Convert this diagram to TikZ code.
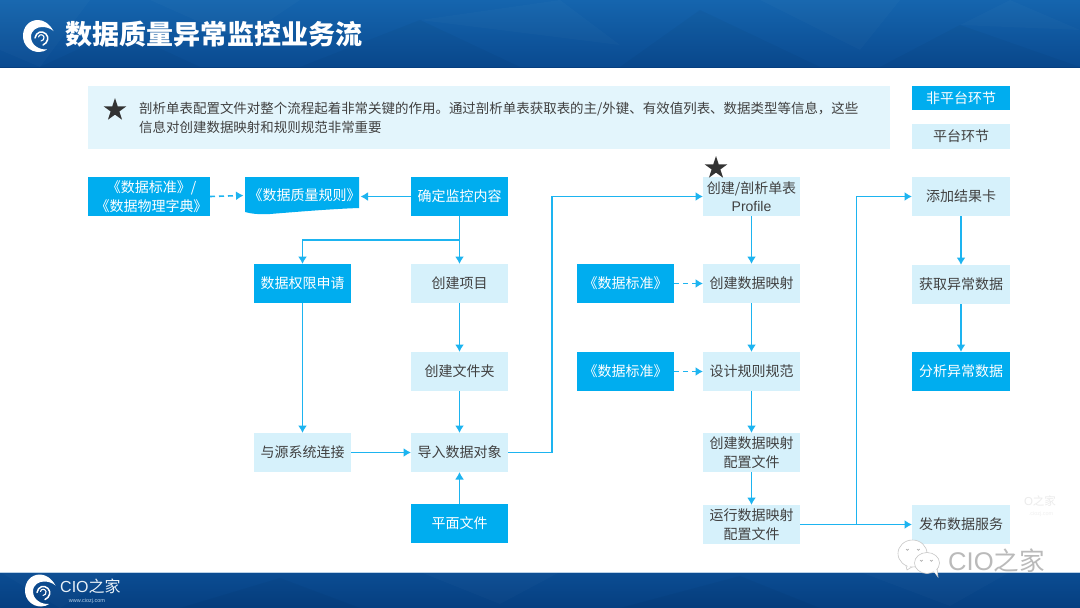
\documentclass[tikz,border=0pt]{standalone}
\usepackage{fontspec}
\setmainfont{Noto Sans CJK SC}
\newfontfamily\latinf{Liberation Sans}
\usetikzlibrary{arrows.meta,shapes.geometric}
\definecolor{cyanA}{HTML}{00ADEF}
\definecolor{paleA}{HTML}{D6F1FB}
\definecolor{noteA}{HTML}{E3F5FC}
\definecolor{lineA}{HTML}{1DB4F0}
\definecolor{txtA}{HTML}{404040}
\definecolor{navyA}{HTML}{0A4A90}
\definecolor{navyB}{HTML}{1565AE}
\definecolor{navyC}{HTML}{063F80}
\tikzset{
  px/.style={x=1pt,y=-1pt},
  boxbase/.style={inner sep=0pt,outer sep=0pt,align=center,font=\fontsize{14}{18.5}\selectfont},
  plat/.style={boxbase,fill=paleA,text=txtA},
  nonplat/.style={boxbase,fill=cyanA,text=white},
  flow/.style={draw=lineA,line width=1.6pt,-{Latex[length=7.5pt,width=9pt]}},
  flowdash/.style={flow,dash pattern=on 5pt off 4pt},
  bstar/.style={star,star points=5,star point ratio=2.6,fill=black!80,inner sep=0pt,minimum size=24pt},
  facet/.style={fill=white,opacity=0.02},
  facetd/.style={fill=black,opacity=0.03},
  wbub/.style={draw=black!22,line width=0.6pt,fill=white}
}
\newcommand{\boxat}[7]{\node[#1,minimum width=#5pt,minimum height=#6pt] (#2) at (#3,#4) {#7};}
\newcommand{\swirl}[2]{%
  \begin{scope}[shift={(#1,#2)}]
    \fill[white] (14.5,-5) .. controls (10,-13) and (4,-16) .. (-1,-16)
      .. controls (-10,-16) and (-16,-9) .. (-16,0)
      .. controls (-16,9) and (-9,16) .. (0,16)
      .. controls (3,16) and (6,15) .. (8,13.5)
      .. controls (0,14) and (-8,9) .. (-8,1)
      .. controls (-8,-6) and (-2,-9) .. (3,-9)
      .. controls (7,-9) and (11,-8) .. (14.5,-5) -- cycle;
    \draw[white,line width=1.5pt,line cap=round] (-4,2) .. controls (-3,-4) and (3,-6) .. (7,-2) .. controls (10,1) and (9,7) .. (4,9);
    \draw[white,line width=1.1pt,line cap=round] (-0.5,1) .. controls (0,-2) and (4,-2) .. (5,1) .. controls (5.5,3) and (4,5) .. (2,5);
  \end{scope}}
\begin{document}
\begin{tikzpicture}[px]
\useasboundingbox (0,0) rectangle (1080,608);
\fill[white] (0,0) rectangle (1080,608);
% header band
\begin{scope}
\clip (0,0) rectangle (1080,67);
\fill[top color=navyB,bottom color=navyA] (0,0) rectangle (1080,67);
\fill[facet] (0,0)--(90,0)--(40,67)--(0,50)--cycle;
\fill[facetd] (40,67)--(120,30)--(200,67)--cycle;
\fill[facet] (150,0)--(300,0)--(240,40)--cycle;
\fill[facetd] (300,67)--(420,20)--(520,67)--cycle;
\fill[facet] (420,20)--(560,0)--(620,45)--cycle;
\fill[facetd] (620,67)--(700,10)--(820,67)--cycle;
\fill[facet] (760,0)--(900,0)--(860,50)--cycle;
\fill[facetd] (880,67)--(960,25)--(1080,67)--cycle;
\fill[facet] (960,25)--(1010,0)--(1080,30)--cycle;
\end{scope}
\fill[navyC] (0,66.5) rectangle (1080,67.5);
% footer band
\begin{scope}
\clip (0,572) rectangle (1080,608);
\fill[top color=navyA!90!navyB,bottom color=navyC] (0,572) rectangle (1080,608);
\fill[facet] (0,572)--(120,572)--(60,608)--cycle;
\fill[facetd] (180,608)--(280,578)--(360,608)--cycle;
\fill[facet] (420,572)--(560,572)--(500,604)--cycle;
\fill[facetd] (620,608)--(740,576)--(820,608)--cycle;
\fill[facet] (860,572)--(1010,572)--(950,606)--cycle;
\end{scope}
\fill[white!70!navyB] (0,571.5) rectangle (1080,572.5);
\swirl{39}{36}
\node[inner sep=0pt,anchor=west,text=white,font=\fontsize{27}{30}\bfseries\selectfont] (title) at (65,34) {数据质量异常监控业务流};
\swirl{41}{590.5}
\node[inner sep=0pt,anchor=west,text=white!90!navyB,font=\fontsize{16}{18}\selectfont] (brand) at (60,586) {{\latinf CIO}之家};
\node[inner sep=0pt,text=white!70!navyB,font=\latinf\fontsize{5.5}{7}\selectfont] (url) at (87,601) {www.ciozj.com};
% note
\boxat{plat,fill=noteA}{note}{489}{117.5}{802}{63}{}
\node[inner sep=0pt,anchor=west,align=left,text=txtA,font=\fontsize{13.47}{19}\selectfont] (notetext) at (139,118) {剖析单表配置文件对整个流程起着非常关键的作用。通过剖析单表获取表的主/外键、有效值列表、数据类型等信息，这些\\信息对创建数据映射和规则规范非常重要};
\node[bstar] (starnote) at (115,110) {};
% legend
\boxat{nonplat}{lega}{961}{98}{98}{24.5}{非平台环节}
\boxat{plat}{legb}{961}{136.5}{98}{24.5}{平台环节}
% column 1
\boxat{nonplat}{std}{149}{196.5}{122}{39}{\hspace{5pt}《数据标准》/\\\hspace{5pt}《数据物理字典》}
\fill[cyanA] (245,177)--(359,177)--(359,208) .. controls (330,209) and (295,212) .. (270,214) .. controls (260,214.5) and (252,214) .. (245,212)--cycle;
\node[boxbase,text=white,minimum width=114pt,minimum height=37pt] (rule) at (302,195.5) {\hspace{5pt}《数据质量规则》};
\boxat{nonplat}{scope}{459.5}{196.5}{97}{39}{确定监控内容}
\boxat{nonplat}{perm}{302.5}{283.5}{97}{39}{数据权限申请}
\boxat{plat}{proj}{459.5}{283.5}{97}{39}{创建项目}
\boxat{plat}{fold}{459.5}{371.5}{97}{39}{创建文件夹}
\boxat{plat}{conn}{302.5}{452.5}{97}{39}{与源系统连接}
\boxat{plat}{imp}{459.5}{452.5}{97}{39}{导入数据对象}
\boxat{nonplat}{flat}{459.5}{523.5}{97}{39}{平面文件}
% column 2
\boxat{plat}{prof}{751.5}{196.5}{97}{39}{创建/剖析单表\\{\latinf Profile}}
\node[bstar] (starprof) at (716,168) {};
\boxat{nonplat}{stdb}{625.5}{283.5}{97}{39}{《数据标准》}
\boxat{plat}{map}{751.5}{283.5}{97}{39}{创建数据映射}
\boxat{nonplat}{stdc}{625.5}{371.5}{97}{39}{《数据标准》}
\boxat{plat}{spec}{751.5}{371.5}{97}{39}{设计规则规范}
\boxat{plat}{cfg}{751.5}{452.5}{97}{39}{创建数据映射\\配置文件}
\boxat{plat}{run}{751.5}{524.5}{97}{39}{运行数据映射\\配置文件}
% column 3
\boxat{plat}{card}{961}{196.5}{98}{39}{添加结果卡}
\boxat{plat}{get}{961}{284.5}{98}{39}{获取异常数据}
\boxat{nonplat}{ana}{961}{371.5}{98}{39}{分析异常数据}
\boxat{plat}{pub}{961}{524.5}{98}{39}{发布数据服务}
% connectors
\draw[flowdash] (std.east) -- (rule.west);
\draw[flow] (scope.west) -- (scope.west -| rule.east);
\coordinate (jleft) at (459.5,240);
\draw[flow] (scope.south) -- (proj.north);
\draw[flow] (jleft) -- (jleft -| perm.north) -- (perm.north);
\draw[flow] (perm.south) -- (conn.north);
\draw[flow] (conn.east) -- (imp.west);
\draw[flow] (proj.south) -- (fold.north);
\draw[flow] (fold.south) -- (imp.north);
\draw[flow] (flat.north) -- (imp.south);
\coordinate (jtop) at (552,452.5);
\draw[flow] (imp.east) -- (jtop) -- (jtop |- prof.west) -- (prof.west);
\draw[flow] (prof.south) -- (map.north);
\draw[flow] (map.south) -- (spec.north);
\draw[flow] (spec.south) -- (cfg.north);
\draw[flow] (cfg.south) -- (run.north);
\draw[flowdash] (stdb.east) -- (map.west);
\draw[flowdash] (stdc.east) -- (spec.west);
\coordinate (jright) at (856.5,524.5);
\draw[flow] (run.east) -- (pub.west);
\draw[flow] (jright) -- (jright |- card.west) -- (card.west);
\draw[flow] (card.south) -- (get.north);
\draw[flow] (get.south) -- (ana.north);
% watermarks
\node[inner sep=0pt,text=black!8,font=\fontsize{11.5}{13}\selectfont] (markup) at (1040,501) {{\latinf O}之家};
\node[inner sep=0pt,text=black!6,font=\latinf\fontsize{5.5}{7}\selectfont] (markurl) at (1041,514) {.ciozj.com};
\draw[wbub] (905,562) -- (907,570) -- (915,565);
\draw[wbub] (912.5,553.5) ellipse (14.5 and 13.5);
\fill[white] (906,560) -- (908,568) -- (914,563) -- cycle;
\draw[wbub] (933,570) -- (938,577) -- (937,567);
\draw[wbub] (927,563) ellipse (12.5 and 10.5);
\fill[white] (931,569) -- (937,575) -- (936,566) -- cycle;
\draw[black!35,line width=0.7pt] (906,549) arc (180:0:1.3) (917,549) arc (180:0:1.3) (920,560) arc (180:0:1.3) (930,560) arc (180:0:1.3);
\node[inner sep=0pt,anchor=west,text=black!27,font=\fontsize{25.6}{28}\selectfont] (wx) at (948,560.5) {{\latinf CIO}之家};
\end{tikzpicture}
\end{document}
